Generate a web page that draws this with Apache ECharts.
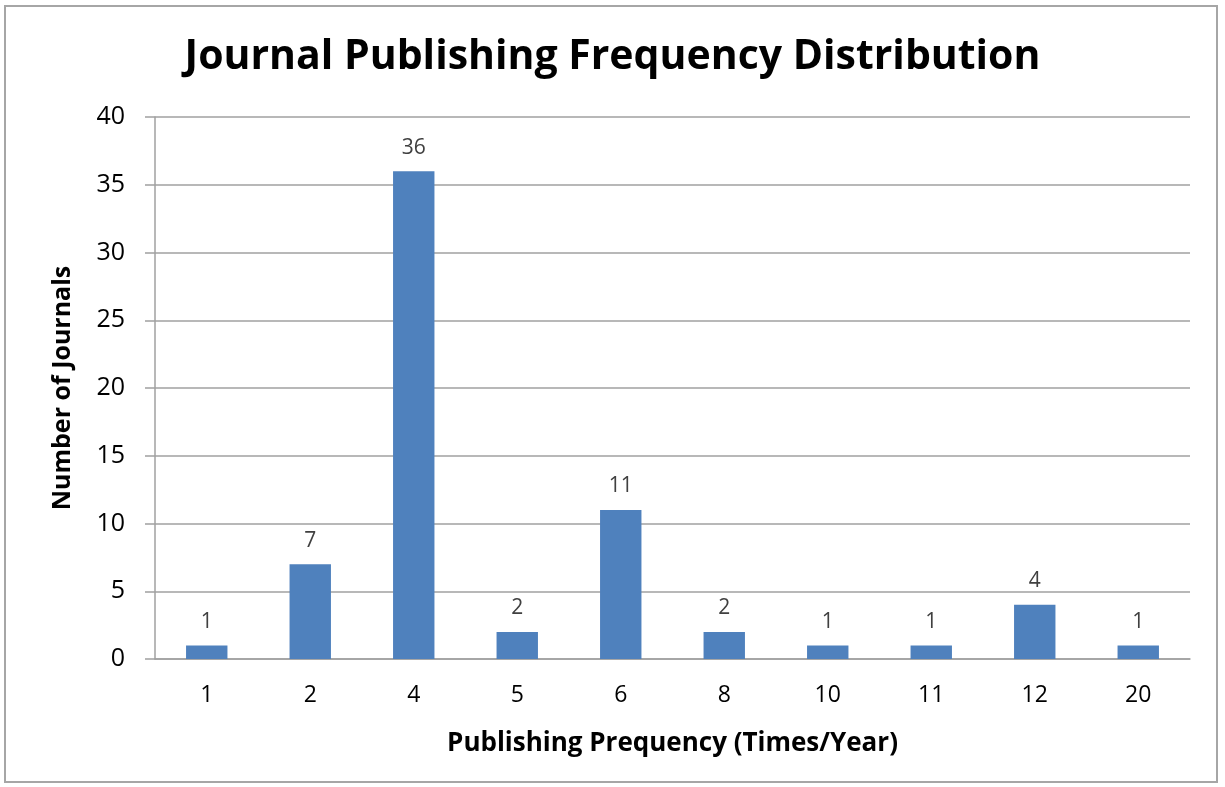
<!DOCTYPE html>
<html>
<head>
<meta charset="utf-8">
<script src="https://cdn.jsdelivr.net/npm/echarts@6/dist/echarts.min.js"></script>
<style>
  html, body { margin: 0; padding: 0; background: #ffffff; }
  #frame { position: absolute; left: 4px; top: 5px; width: 1214px; height: 778px;
           border: 2px solid #a6a6a6; box-sizing: border-box; }
  #chart { width: 1225px; height: 787px; position: absolute; left: 0; top: 0; }
</style>
</head>
<body>
<div id="frame"></div>
<div id="chart"></div>
<script>
// Publishing frequency (times per year) and the number of journals at each
const frequencies = ['1', '2', '4', '5', '6', '8', '10', '11', '12', '20'];
const journalCounts = [1, 7, 36, 2, 11, 2, 1, 1, 4, 1];
const yTicks = { min: 0, max: 40, interval: 5 };

const FONT = '"Open Sans", "Liberation Sans", sans-serif';
const chart = echarts.init(document.getElementById('chart'), null, { renderer: 'canvas' });

chart.setOption({
  backgroundColor: 'transparent',
  animation: false,
  title: {
    text: 'Journal Publishing Frequency Distribution',
    left: 'center',
    top: 32,
    textStyle: { fontFamily: FONT, fontSize: 41, fontWeight: 'bold', color: '#000000' }
  },
  grid: { left: 155, right: 35, top: 117, bottom: 128, containLabel: false },
  xAxis: {
    type: 'category',
    data: frequencies,
    name: 'Publishing Prequency (Times/Year)',
    nameLocation: 'middle',
    nameGap: 72,
    nameTextStyle: { fontFamily: FONT, fontSize: 26, fontWeight: 'bold', color: '#000000' },
    axisLine: { lineStyle: { color: '#a0a0a0', width: 1.5 } },
    axisTick: { show: false },
    axisLabel: { fontFamily: FONT, fontSize: 23, color: '#000000', margin: 25 }
  },
  yAxis: {
    type: 'value',
    min: yTicks.min,
    max: yTicks.max,
    interval: yTicks.interval,
    name: 'Number of Journals',
    nameLocation: 'middle',
    nameGap: 80,
    nameRotate: 90,
    nameTextStyle: { fontFamily: FONT, fontSize: 25, fontWeight: 'bold', color: '#000000' },
    axisLine: { show: true, lineStyle: { color: '#a0a0a0', width: 1.5 } },
    axisTick: { show: true, inside: false, length: 10, lineStyle: { color: '#a0a0a0', width: 1.5 } },
    axisLabel: { fontFamily: FONT, fontSize: 25, color: '#000000', margin: 30 },
    splitLine: { show: true, lineStyle: { color: '#a0a0a0', width: 1.5 } }
  },
  series: [{
    type: 'bar',
    data: journalCounts,
    barWidth: '40%',
    itemStyle: { color: '#4f81bd' },
    label: {
      show: true,
      position: 'top',
      distance: 13,
      fontFamily: FONT,
      fontSize: 21,
      color: '#404040'
    }
  }]
});
</script>
</body>
</html>
